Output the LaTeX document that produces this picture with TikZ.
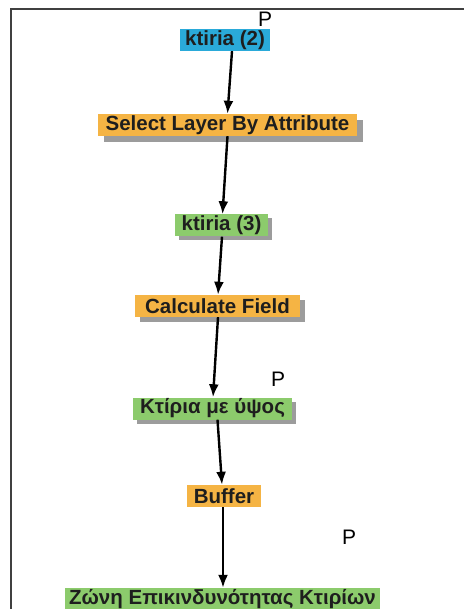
\documentclass[tikz,border=0pt]{standalone}
\usepackage{fontspec}
\setmainfont{Liberation Sans}
\usetikzlibrary{arrows.meta,shadows}
\definecolor{toolorange}{HTML}{F5B444}
\definecolor{datagreen}{HTML}{8CCB6C}
\definecolor{inblue}{HTML}{2AAAD9}
\definecolor{shadowgray}{HTML}{9C9C9C}
\definecolor{txt}{HTML}{1E1E1E}
\tikzset{
  box/.style={rectangle, inner sep=0pt, minimum height=22pt, text=txt,
    font=\fontsize{20.5}{22}\selectfont\bfseries},
  tool/.style={box, fill=toolorange},
  data/.style={box, fill=datagreen},
  inp/.style={box, fill=inblue},
  shad/.style={drop shadow={shadow xshift=#1, shadow yshift=-#1, fill=shadowgray, opacity=1}},
  flow/.style={line width=2.4pt, -{Latex[length=13pt,width=10pt]}},
  plabel/.style={font=\fontsize{21}{22}\selectfont, text=black},
  frame/.style={line width=1.6pt, draw=black!75}
}
\begin{document}
\begin{tikzpicture}[x=1pt,y=-1pt]
\useasboundingbox (0,0) rectangle (463,609);
\draw[frame] (11,612) -- (11,9) -- (465,9);
\node[inp, minimum width=90pt] (k2) at (225,40) {ktiria (2)};
\node[tool, shad=6pt, minimum width=259pt] (sel) at (227.5,125) {Select Layer By Attribute};
\node[data, shad=4pt, minimum width=93pt] (k3) at (221.5,225.5) {ktiria (3)};
\node[tool, shad=5pt, minimum width=165pt] (calc) at (217.5,306) {Calculate Field};
\node[data, shad=4pt, minimum width=159pt] (hgt) at (212.5,408.5) {Κτίρια με ύψος};
\node[tool, minimum width=74pt] (buf) at (224,496) {Buffer};
\node[data, minimum width=315pt] (zone) at (222.5,599) {Ζώνη Επικινδυνότητας Κτιρίων};
\node[plabel] (p1) at (265,19) {P};
\node[plabel] (p2) at (278,379) {P};
\node[plabel] (p3) at (349,537) {P};
\draw[flow] ([xshift=7pt]k2.south) -- ([xshift=0pt]sel.north);
\draw[flow] ([xshift=0pt]sel.south) -- ([xshift=1pt]k3.north);
\draw[flow] ([xshift=0.5pt]k3.south) -- ([xshift=0.5pt]calc.north);
\draw[flow] ([xshift=0.5pt]calc.south) -- ([xshift=0.5pt]hgt.north);
\draw[flow] ([xshift=5pt]hgt.south) -- ([xshift=-2pt]buf.north);
\draw[flow] ([xshift=-1pt]buf.south) -- ([xshift=0.5pt]zone.north);
\end{tikzpicture}
\end{document}
